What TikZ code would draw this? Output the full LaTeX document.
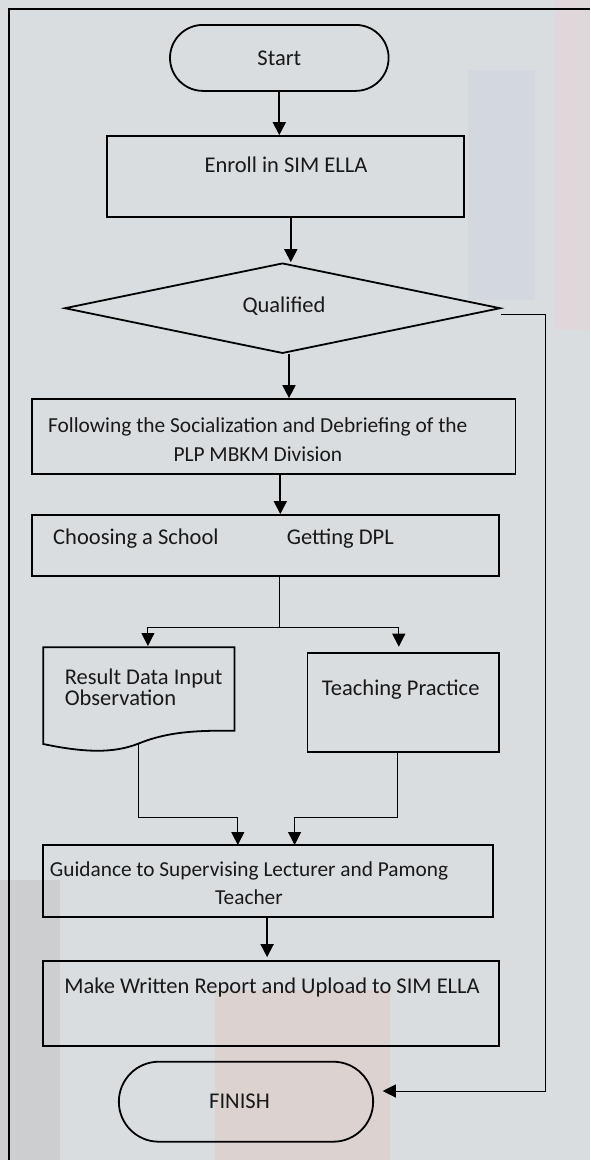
\documentclass[tikz,border=0pt]{standalone}
\usepackage{fontspec}
\setmainfont{Carlito}
\usetikzlibrary{shapes.geometric,arrows.meta}

\definecolor{wall}{HTML}{D9DDE0}
\definecolor{dimwall}{HTML}{CCCECF}
\definecolor{brick}{HTML}{DCD2CF}
\definecolor{rose}{HTML}{DFD7DA}
\definecolor{glass}{HTML}{D2D8DE}

\begin{document}
\begin{tikzpicture}[x=1pt,y=-1pt,
  every node/.style={font=\fontsize{22.5}{27}\selectfont,text=black!90},
  box/.style={draw,line width=1.8pt,inner sep=0pt},
  term/.style={box,rounded corners=#1},
  arr/.style={-{Triangle[length=13pt,width=13pt]},line width=1.8pt},
  link/.style={line width=1pt},
  tarr/.style={link,-{Triangle[length=13pt,width=13pt]}}]
%background
\useasboundingbox (0,0) rectangle (590,1160);
\fill[wall] (0,0) rectangle (590,1160);
\fill[glass] (468,70) rectangle (535,300);
\fill[rose] (555,0) rectangle (590,330);
\fill[dimwall] (0,880) rectangle (60,1160);
\fill[brick] (215,990) rectangle (390,1160);
\draw[line width=2pt] (9.4,1160) -- (9.4,9.2) -- (590,9.2);
%terminals
\node[term=33pt,minimum width=218.6pt,minimum height=66pt] (start) at (279.3,57.9) {Start};
\node[term=40pt,minimum width=254.3pt,minimum height=80pt] (finish) at (246,1101.7) {};
\node (finishtxt) at (239.5,1101.7) {FINISH};
%boxes
\node[box,minimum width=356.7pt,minimum height=81pt] (enroll) at (285.5,176.5) {};
\node (enrolltxt) at (286,165) {Enroll in SIM ELLA};
\node[box,diamond,minimum width=435.7pt,minimum height=90.3pt] (qual) at (282.5,308.2) {};
\node (qualtxt) at (284,306) {Qualified};
\node[box,minimum width=483.4pt,minimum height=75.3pt] (follow) at (273.7,436.7) {};
\node[align=center,font=\fontsize{21.4}{29}\selectfont] (followtxt) at (257.8,439.5)
  {Following the Socialization and Debriefing of the\\PLP MBKM Division};
\node[box,minimum width=467.2pt,minimum height=61pt] (choose) at (265.6,545.5) {};
\node[anchor=west] (schooltxt) at (49.7,539) {Choosing a School};
\node[anchor=west] (dpltxt) at (283.3,539) {Getting DPL};
\draw[line width=1.8pt] (43.3,647.3) -- (234.4,647.3) -- (234.4,730.7)
  .. controls (200,730.5) and (170,731) .. (140,743)
  .. controls (120,751) and (95,755) .. (43.3,744) -- cycle;
\node[anchor=west,align=left,font=\fontsize{22.5}{21.7}\selectfont] (doctxt) at (61.3,687.2)
  {Result Data Input\\Observation};
\node[box,minimum width=191.8pt,minimum height=98.4pt] (teach) at (403.3,702.5) {};
\node (teachtxt) at (400.7,690) {Teaching Practice};
\node[box,minimum width=449.6pt,minimum height=71.7pt] (guide) at (268.1,880.9) {};
\node[align=center,font=\fontsize{21.3}{27.7}\selectfont] (guidetxt) at (249,883.2)
  {Guidance to Supervising Lecturer and Pamong\\Teacher};
\node[box,minimum width=455.9pt,minimum height=85pt] (make) at (271.3,1003.5) {};
\node (maketxt) at (272,987.3) {Make Written Report and Upload to SIM ELLA};
%joints
\coordinate (fork) at (279.5,627.7);
\coordinate (docin) at (147.9,646);
\coordinate (teachin) at (398.8,646.7);
\coordinate (docfoot) at (138.4,743);
\coordinate (guidel) at (237.8,845);
\coordinate (guider) at (294.6,845);
%arrows
\draw[arr] (start.south) -- (start.south |- enroll.north);
\draw[arr] ([xshift=5.3pt]enroll.south) -- ([xshift=5.3pt]enroll.south |- qual.north);
\draw[arr] ([xshift=6.5pt]qual.south) -- ([xshift=6.5pt]qual.south |- follow.north);
\draw[arr] ([xshift=6.6pt]follow.south) -- ([xshift=6.6pt]follow.south |- choose.north);
\draw[link] ([xshift=13.9pt]choose.south) -- (fork);
\draw[tarr] (fork) -| (docin);
\draw[tarr] (fork) -| (teachin);
\draw[tarr] (docfoot) -- (138.4,817) -| (guidel);
\draw[tarr] ([xshift=-5.6pt]teach.south) -- (397.7,817) -| (guider);
\draw[arr] ([xshift=-1pt]guide.south) -- ([xshift=-1pt,yshift=3pt]guide.south |- make.north);
\draw[tarr] ([yshift=-6pt]qual.east) -| (545,1091) -- ([xshift=8.7pt,yshift=10.7pt]finish.east);
\end{tikzpicture}
\end{document}
